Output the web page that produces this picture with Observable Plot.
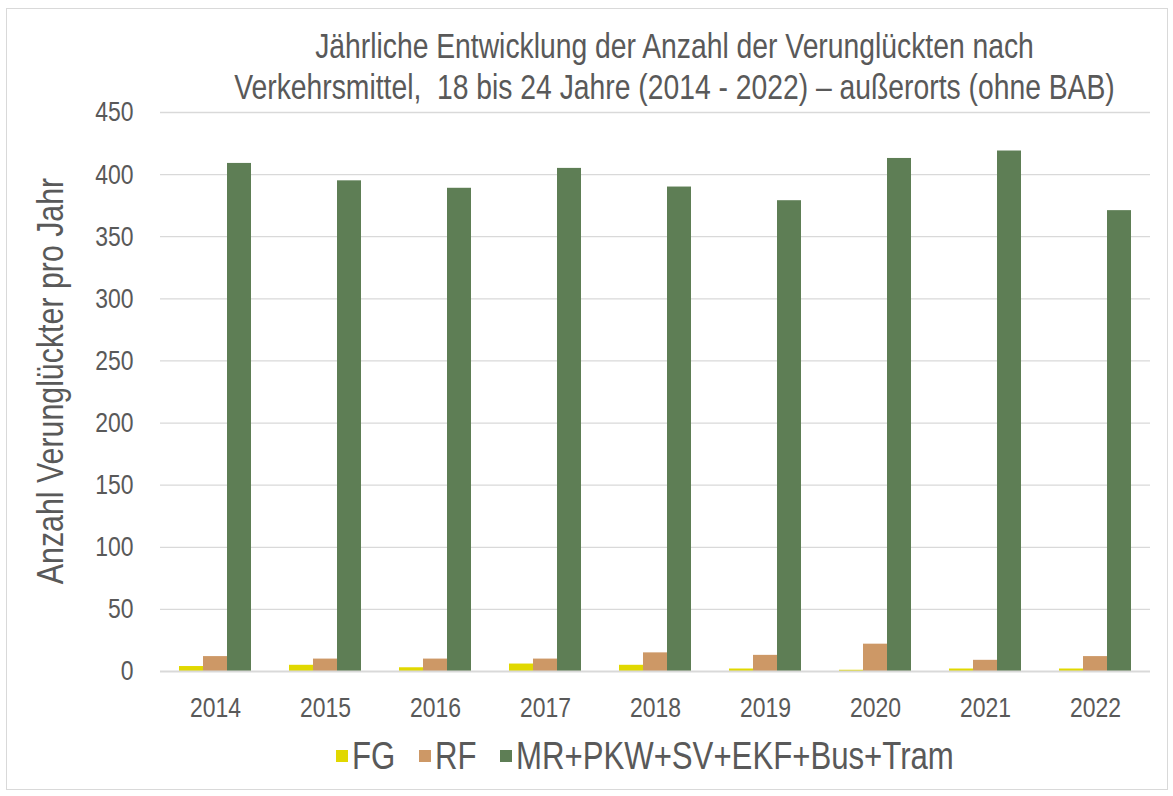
<!DOCTYPE html>
<html>
<head>
<meta charset="utf-8">
<script src="https://cdn.jsdelivr.net/npm/d3@7"></script>
<script src="https://cdn.jsdelivr.net/npm/@observablehq/plot@0.6"></script>
<style>
  html, body { margin: 0; padding: 0; background: #fff; }
  #wrap { position: relative; width: 1173px; height: 796px; overflow: hidden;
    font-family: "Liberation Sans", Arial, sans-serif; color: #595959; }
  #frame { position: absolute; left: 6px; top: 8px; width: 1162px; height: 782px; border: 1px solid #d9d9d9; box-sizing: border-box; }
  #title { position: absolute; left: 88px; width: 1173px; top: 26px; text-align: center; font-size: 34.5px; line-height: 41px;
    transform: scaleX(0.82); transform-origin: 50% 50%; white-space: nowrap; }
  #ylabel { position: absolute; left: 51px; top: 381px; transform: translate(-50%, -50%) rotate(-90deg) scaleX(0.82); white-space: nowrap; font-size: 37px; line-height: 40px; }
  .li { position: absolute; top: 738px; height: 36px; display: flex; align-items: center; white-space: nowrap; }
  .sw { display: inline-block; width: 12px; height: 12px; margin-right: 4px; flex: none; }
  .lt { display: inline-block; font-size: 38px; line-height: 36px; transform: scaleX(0.82); transform-origin: 0 50%; }
  #chart { position: absolute; left: 0; top: 0; }
</style>
</head>
<body>
<div id="wrap">
  <div id="frame"></div>
  <div id="chart"></div>
  <div id="title">Jährliche Entwicklung der Anzahl der Verunglückten nach<br>Verkehrsmittel,&nbsp; 18 bis 24 Jahre (2014 - 2022) – außerorts (ohne BAB)</div>
  <div id="ylabel">Anzahl Verunglückter pro Jahr</div>
</div>
<script>
const years = ["2014", "2015", "2016", "2017", "2018", "2019", "2020", "2021", "2022"];
const seriesNames = ["FG", "RF", "MR+PKW+SV+EKF+Bus+Tram"];
const fgValues = [4, 5, 3, 6, 5, 2, 1, 2, 2];
const rfValues = [12, 10, 10, 10, 15, 13, 22, 9, 12];
const mrValues = [409, 395, 389, 405, 390, 379, 413, 419, 371];
const seriesColors = ["#e1d800", "#cd9866", "#5e7e55"];
const yTicks = [0, 50, 100, 150, 200, 250, 300, 350, 400, 450];

const valuesBySeries = [fgValues, rfValues, mrValues];
const table = [];
years.forEach((yr, i) => {
  seriesNames.forEach((s, j) => table.push({ year: yr, series: s, value: valuesBySeries[j][i] }));
});

const chart = Plot.plot({
  width: 1173,
  height: 796,
  marginTop: 112,
  marginBottom: 125,
  marginLeft: 159,
  marginRight: 23,
  style: { fontFamily: '"Liberation Sans", Arial, sans-serif', fontSize: "28px", color: "#595959", background: "transparent" },
  fx: { domain: years, padding: 0, label: null, tickSize: 0, tickPadding: 26, axis: "bottom" },
  x: { domain: seriesNames, paddingInner: 0, paddingOuter: 0.75, axis: null },
  y: { domain: [0, 450], ticks: yTicks, tickSize: 0, tickPadding: 27, label: null, grid: false },
  color: { domain: seriesNames, range: seriesColors },
  marks: [
    Plot.ruleY(yTicks.filter(d => d > 0), { stroke: "#d9d9d9", strokeWidth: 1.3 }),
    Plot.barY(table, { fx: "year", x: "series", y: "value", fill: "series" }),
    Plot.ruleY([0], { stroke: "#d9d9d9", strokeWidth: 2 })
  ]
});
document.getElementById("chart").appendChild(chart);

// condense the axis text horizontally (narrow font look)
chart.querySelectorAll("text").forEach(t => {
  const tr = t.getAttribute("transform");
  if (tr) {
    t.setAttribute("transform", tr + " scale(0.82,1)");
  } else {
    const x = +(t.getAttribute("x") || 0), y = +(t.getAttribute("y") || 0);
    t.setAttribute("transform", `translate(${x},${y}) scale(0.82,1) translate(${-x},${-y})`);
  }
});

// legend
const wrap = document.getElementById("wrap");
const legendX = [336, 419, 500];
seriesNames.forEach((s, j) => {
  const el = document.createElement("div");
  el.className = "li";
  el.style.left = legendX[j] + "px";
  el.innerHTML = `<span class="sw" style="background:${seriesColors[j]}"></span><span class="lt">${s}</span>`;
  wrap.appendChild(el);
});
</script>
</body>
</html>
